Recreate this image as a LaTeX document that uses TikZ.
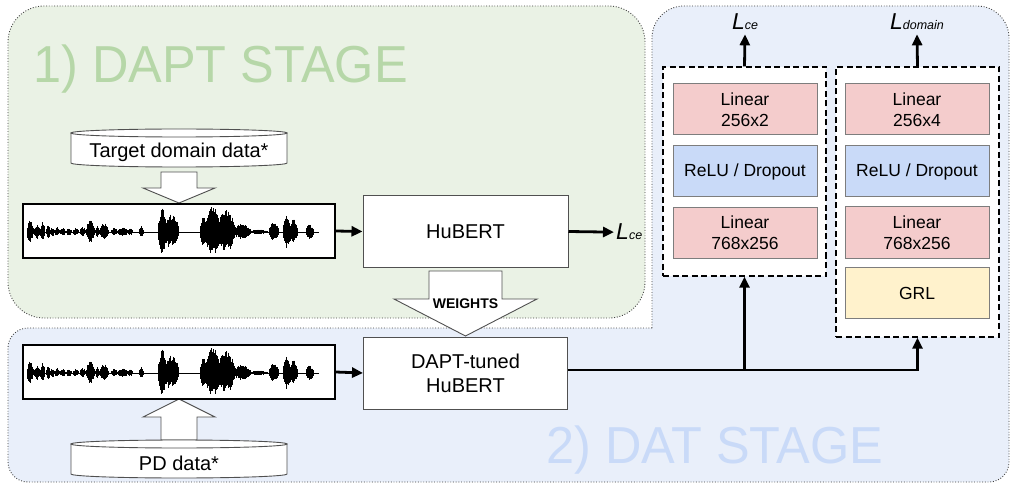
\documentclass[tikz,border=0pt]{standalone}
\usepackage{fontspec}
\setmainfont{Liberation Sans}
\newfontfamily\titlefont[FakeStretch=0.97]{Liberation Sans}
\usetikzlibrary{arrows.meta,calc}

\definecolor{greenbg}{RGB}{234,242,229}
\definecolor{bluebg}{RGB}{233,239,250}
\definecolor{greentitle}{RGB}{182,215,168}
\definecolor{bluetitle}{RGB}{201,218,248}
\definecolor{pinkfill}{RGB}{244,204,204}
\definecolor{bluefill}{RGB}{201,218,248}
\definecolor{yellowfill}{RGB}{255,242,204}
\definecolor{layerline}{RGB}{125,125,125}
\definecolor{boxline}{RGB}{80,80,80}

\newcommand\lossL[1]{\itshape\fontsize{23}{23}\selectfont L\fontsize{12.5}{12.5}\selectfont #1}

\newcommand\mywaveform[1]{%
  \pgfmathsetseed{42}%
  \draw[line width=0.7pt] (27,#1) -- (319,#1);
  \foreach \xs/\xe/\amp in {27/33/12, 34/40/8, 40.5/44.5/10, 46/50/7, 50.5/54/5, 55/59/5,
      60/65/4, 66.5/71/4, 73/78/4, 80/85/5, 86.5/94/12, 95.5/99/6, 100/108/9,
      111.5/117/4, 118/127/5, 128/132/4, 139/143/6, 158/166/24, 164/178/18,
      200/206/15, 205/220/26, 218/234/23, 233/250/8, 251/267/2.5, 269/278/10,
      283/290/18, 289/297/13, 306/313/8}{
    \pgfmathsetmacro\wn{int((\xe-\xs)/0.5)}
    \foreach \k in {0,...,\wn}{
      \pgfmathsetmacro\wx{\xs+\k*0.5}
      \pgfmathsetmacro\wt{sin(180*\k/\wn)}
      \pgfmathsetmacro\wau{\amp*(0.4+0.6*\wt)*(0.6+0.4*rnd)}
      \pgfmathsetmacro\wad{\amp*(0.4+0.6*\wt)*(0.5+0.4*rnd)}
      \draw[line width=0.9pt] (\wx,#1-\wau) -- (\wx,#1+\wad);
    }
  }
}

\begin{document}
\begin{tikzpicture}[x=1pt,y=-1pt,
  region/.style={draw=black!75, line width=0.9pt, dash pattern=on 0.9pt off 1.8pt},
  plainbox/.style={draw=boxline, fill=white, line width=1pt, inner sep=0pt,
      font=\fontsize{20}{24}\selectfont, align=center},
  layer/.style={draw=layerline, line width=1pt, minimum width=144, minimum height=51,
      inner sep=0pt, font=\fontsize{17.5}{21}\selectfont, align=center},
  headbox/.style={draw=black, dash pattern=on 6pt off 3.5pt, line width=1.3pt, fill=white, inner sep=0pt},
  wavebox/.style={draw=black, line width=1.2pt, fill=white, inner sep=0pt},
  conn/.style={line width=2.8pt, -{Triangle[length=11pt,width=10pt]}},
  blockarrow/.style={draw=boxline, fill=white, line width=0.9pt, line join=miter},
  cylline/.style={draw=boxline, fill=white, line width=0.9pt},
  cyltext/.style={inner sep=0pt, font=\fontsize{20}{24}\selectfont},
  lossnode/.style={inner sep=4pt},
]
\useasboundingbox (0,0) rectangle (1011,486);

% regions
\draw[region, fill=greenbg, rounded corners=36pt] (8,6) rectangle (645,318);
\draw[region, fill=bluebg] (652,328) [rounded corners=32pt] -- (652,6) -- (1009,6)
   [rounded corners=20pt] -- (1009,482) -- (8,482) -- (8,328) -- (652,328);

% titles
\node[anchor=base west, inner sep=0pt, text=greentitle, font=\titlefont\fontsize{52}{52}\selectfont] (t1) at (33,83) {1) DAPT STAGE};
\node[anchor=base west, inner sep=0pt, text=bluetitle, font=\titlefont\fontsize{52}{52}\selectfont] (t2) at (546,463) {2) DAT STAGE};

% cylinder: target domain data
\draw[cylline] (71,133) -- (71,163) arc[start angle=180,end angle=0,x radius=108,y radius=4] -- (287,133) -- cycle;
\draw[cylline] (179,133) ellipse[x radius=108, y radius=4];
\node[cyltext] (tdd) at (179,152) {Target domain data*};

% cylinder: PD data
\draw[cylline] (71,444) -- (71,474) arc[start angle=180,end angle=0,x radius=108,y radius=4] -- (287,444) -- cycle;
\node[cyltext] (pdd) at (179,463) {PD data*};

% block arrows
\draw[blockarrow] (161,172) -- (197,172) -- (197,188) -- (215,188) -- (179,203) -- (143,188) -- (161,188) -- cycle;
\draw[blockarrow] (179,399) -- (215,417) -- (197,417) -- (197,440) -- (161,440) -- (161,417) -- (143,417) -- cycle;
\draw[cylline] (179,444) ellipse[x radius=108, y radius=4];
\draw[blockarrow] (429,271) -- (502,271) -- (502,299) -- (537,299) -- (465.5,336) -- (394,299) -- (429,299) -- cycle;
\node[inner sep=0pt, font=\bfseries\fontsize{14}{14}\selectfont] (wts) at (465.5,304) {WEIGHTS};

% waveforms
\node[wavebox, minimum width=312, minimum height=54] (w1) at (179,231) {};
\mywaveform{232}
\node[wavebox, minimum width=312, minimum height=54] (w2) at (179,372) {};
\mywaveform{373}

% main boxes
\node[plainbox, minimum width=205, minimum height=71] (hub) at (465.5,231.5) {HuBERT};
\node[plainbox, minimum width=204, minimum height=72] (dapt) at (465.5,373) {DAPT-tuned\\HuBERT};

% head boxes
\node[headbox, minimum width=163, minimum height=209] (cebox) at (744.5,171.5) {};
\node[headbox, minimum width=163, minimum height=270] (dombox) at (917.5,202) {};

\node[layer, fill=pinkfill] (l1a) at (745,109.5) {Linear\\256x2};
\node[layer, fill=bluefill] (l1b) at (745,171.5) {ReLU / Dropout};
\node[layer, fill=pinkfill] (l1c) at (745,233) {Linear\\768x256};

\node[layer, fill=pinkfill] (l2a) at (917,109.5) {Linear\\256x4};
\node[layer, fill=bluefill] (l2b) at (917,171.5) {ReLU / Dropout};
\node[layer, fill=pinkfill] (l2c) at (917,232.5) {Linear\\768x256};
\node[layer, fill=yellowfill] (l2d) at (917,293) {GRL};

% loss labels
\node[lossnode, inner sep=2pt, anchor=base west] (lce1) at (614,240) {\lossL{ce}};
\node[lossnode, anchor=base] (lce2) at (745,30) {\lossL{ce}};
\node[lossnode, anchor=base] (ldom) at (917,30) {\lossL{domain}};

% connectors
\draw[conn] (w1.east) -- (hub.west);
\draw[conn] (hub.east) -- (lce1.west);
\draw[conn] (w2.east) -- (dapt.west);
\coordinate (jn) at ($(dapt.east)+(0,-3)$);
\draw[conn] (jn) -| (dombox.south);
\draw[conn] (jn -| cebox.south) -- (cebox.south);
\draw[conn] (cebox.north) -- (lce2.south);
\draw[conn] (dombox.north) -- (ldom.south);
\end{tikzpicture}
\end{document}
